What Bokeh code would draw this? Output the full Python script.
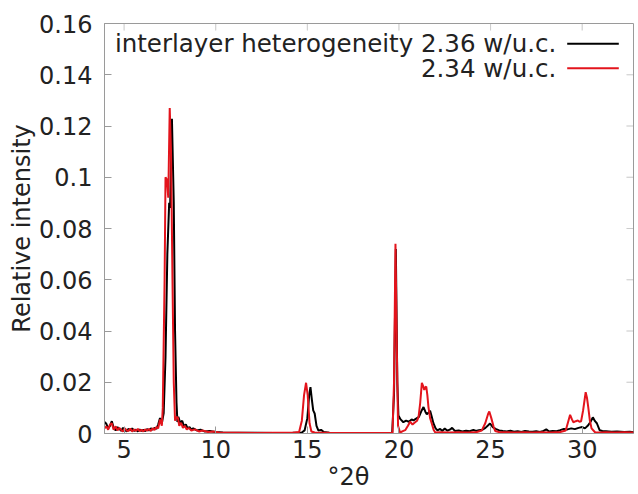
from bokeh.plotting import figure
from bokeh.models import FixedTicker, Range1d, Label, BoxAnnotation, Title
from bokeh.embed import file_html
from bokeh.resources import INLINE

# ---------------- data ----------------
x_black = [3.93, 4.03, 4.13, 4.23, 4.33, 4.43, 4.54, 4.64, 4.74, 4.84, 4.94, 5.04, 5.14, 5.24, 5.34,
           5.44, 5.55, 5.65, 5.75, 5.85, 5.95, 6.05, 6.15, 6.25, 6.35, 6.46, 6.56, 6.66, 6.76, 6.86,
           6.96, 7.06, 7.16, 7.26, 7.36, 7.46, 7.51, 7.61, 7.71, 7.78, 7.86, 7.91, 7.96, 8.07, 8.17,
           8.27, 8.37, 8.47, 8.57, 8.67, 8.77, 8.97, 9.17, 9.38, 9.68, 9.98, 10.39, 11.2, 12.2, 13.2,
           14.2, 14.7, 14.85, 15.0, 15.1, 15.17, 15.25, 15.32, 15.4, 15.5, 15.6, 15.75, 15.9, 16.2,
           17.2, 18.2, 19.2, 19.63, 19.73, 19.83, 19.91, 19.97, 20.09, 20.24, 20.39, 20.54, 20.69,
           20.79, 20.94, 21.09, 21.24, 21.34, 21.44, 21.52, 21.62, 21.70, 21.79, 21.88, 22.0, 22.1,
           22.25, 22.35, 22.5, 22.65, 22.8, 22.9, 23.05, 23.26, 23.46, 23.66, 23.86, 24.06, 24.21,
           24.36, 24.56, 24.72, 24.87, 24.97, 25.12, 25.27, 25.47, 25.67, 25.88, 26.08, 26.28, 26.48,
           26.68, 26.88, 27.09, 27.29, 27.49, 27.69, 27.89, 28.04, 28.19, 28.39, 28.6, 28.8, 29.0,
           29.2, 29.4, 29.6, 29.8, 30.0, 30.15, 30.3, 30.45, 30.58, 30.7, 30.8, 30.95, 31.1, 31.3,
           31.6, 31.9, 32.3, 32.6, 32.8]
y_black = [0.0045, 0.0038, 0.0020, 0.0030, 0.0048, 0.0022, 0.0012, 0.0025, 0.0018, 0.0010, 0.0022,
           0.0015, 0.0008, 0.0018, 0.0012, 0.0020, 0.0010, 0.0015, 0.0008, 0.0016, 0.0010, 0.0014,
           0.0009, 0.0017, 0.0012, 0.0020, 0.0015, 0.0022, 0.0018, 0.0035, 0.0060, 0.0040, 0.0080,
           0.0300, 0.0700, 0.0900, 0.0880, 0.1228, 0.0900, 0.0400, 0.0120, 0.0045, 0.0065, 0.0040,
           0.0050, 0.0028, 0.0035, 0.0020, 0.0025, 0.0015, 0.0020, 0.0012, 0.0015, 0.0008, 0.0010,
           0.0006, 0.0004, 0.0003, 0.0003, 0.0002, 0.0003, 0.0004, 0.0012, 0.0060, 0.0150, 0.0181,
           0.0130, 0.0090, 0.0078, 0.0030, 0.0012, 0.0014, 0.0006, 0.0003, 0.0002, 0.0002, 0.0002,
           0.0003, 0.0150, 0.0720, 0.0200, 0.0070, 0.0055, 0.0044, 0.0050, 0.0046, 0.0055, 0.0051,
           0.0058, 0.0065, 0.0090, 0.0103, 0.0085, 0.0075, 0.0082, 0.0089, 0.0065, 0.0040, 0.0020,
           0.0012, 0.0018, 0.0010, 0.0019, 0.0011, 0.0016, 0.0022, 0.0010, 0.0012, 0.0008, 0.0011,
           0.0009, 0.0014, 0.0010, 0.0013, 0.0015, 0.0022, 0.0032, 0.0039, 0.0025, 0.0018, 0.0012,
           0.0010, 0.0008, 0.0011, 0.0007, 0.0009, 0.0006, 0.0010, 0.0008, 0.0007, 0.0009, 0.0006,
           0.0010, 0.0016, 0.0008, 0.0010, 0.0009, 0.0013, 0.0018, 0.0016, 0.0020, 0.0017, 0.0022,
           0.0025, 0.0020, 0.0030, 0.0045, 0.0063, 0.0048, 0.0040, 0.0013, 0.0010, 0.0009, 0.0007,
           0.0008, 0.0006, 0.0007, 0.0005]

x_red = [3.93, 4.03, 4.13, 4.23, 4.33, 4.43, 4.54, 4.64, 4.74, 4.84, 4.94, 5.04, 5.14, 5.24, 5.34,
         5.44, 5.55, 5.65, 5.75, 5.85, 5.95, 6.05, 6.15, 6.25, 6.35, 6.46, 6.56, 6.66, 6.76, 6.86,
         6.96, 7.06, 7.11, 7.21, 7.26, 7.34, 7.41, 7.49, 7.56, 7.64, 7.71, 7.78, 7.86, 7.94, 8.01,
         8.11, 8.21, 8.31, 8.42, 8.52, 8.67, 8.87, 9.08, 9.28, 9.58, 9.88, 10.18, 11.2, 12.2, 13.2,
         14.2, 14.55, 14.7, 14.82, 14.93, 15.02, 15.12, 15.22, 15.4, 16.2, 17.2, 18.2, 19.2, 19.65,
         19.73, 19.81, 19.89, 19.95, 20.06, 20.24, 20.34, 20.49, 20.61, 20.74, 20.88, 20.99, 21.07,
         21.16, 21.25, 21.32, 21.38, 21.44, 21.49, 21.55, 21.61, 21.70, 21.79, 21.89, 21.98, 22.25,
         22.75, 23.25, 23.75, 24.25, 24.52, 24.71, 24.86, 24.93, 25.04, 25.17, 25.25, 25.45, 25.85,
         26.3, 26.8, 27.3, 27.8, 28.3, 28.8, 29.1, 29.25, 29.34, 29.44, 29.52, 29.65, 29.76, 29.85,
         29.94, 30.05, 30.19, 30.26, 30.33, 30.42, 30.51, 30.7, 31.0, 31.3, 31.8, 32.3, 32.8]
y_red = [0.0020, 0.0028, 0.0015, 0.0035, 0.0040, 0.0015, 0.0028, 0.0012, 0.0022, 0.0014, 0.0008,
         0.0020, 0.0012, 0.0010, 0.0019, 0.0008, 0.0016, 0.0010, 0.0018, 0.0009, 0.0015, 0.0008,
         0.0016, 0.0011, 0.0018, 0.0010, 0.0020, 0.0014, 0.0025, 0.0020, 0.0055, 0.0030, 0.0100,
         0.0600, 0.1000, 0.0990, 0.0920, 0.1270, 0.1100, 0.0600, 0.0200, 0.0050, 0.0065, 0.0060,
         0.0030, 0.0042, 0.0022, 0.0030, 0.0015, 0.0022, 0.0012, 0.0016, 0.0008, 0.0012, 0.0006,
         0.0008, 0.0004, 0.0003, 0.0002, 0.0003, 0.0003, 0.0006, 0.0050, 0.0150, 0.0198, 0.0150,
         0.0040, 0.0008, 0.0004, 0.0003, 0.0002, 0.0002, 0.0002, 0.0003, 0.0200, 0.0740, 0.0300,
         0.0030, 0.0004, 0.0010, 0.0013, 0.0030, 0.0046, 0.0035, 0.0044, 0.0050, 0.0065, 0.0120,
         0.0198, 0.0185, 0.0170, 0.0180, 0.0183, 0.0150, 0.0103, 0.0060, 0.0039, 0.0015, 0.0004,
         0.0005, 0.0004, 0.0005, 0.0004, 0.0006, 0.0012, 0.0040, 0.0075, 0.0086, 0.0060, 0.0025,
         0.0010, 0.0006, 0.0005, 0.0004, 0.0005, 0.0004, 0.0005, 0.0004, 0.0006, 0.0012, 0.0050,
         0.0073, 0.0055, 0.0044, 0.0048, 0.0051, 0.0046, 0.0048, 0.0090, 0.0161, 0.0140, 0.0103,
         0.0050, 0.0020, 0.0005, 0.0004, 0.0005, 0.0004, 0.0005, 0.0004]

series_labels = ["interlayer heterogeneity 2.36 w/u.c.", "2.34 w/u.c."]
x_ticks = [5, 10, 15, 20, 25, 30]
x_tick_labels = ["5", "10", "15", "20", "25", "30"]
y_ticks = [0, 0.02, 0.04, 0.06, 0.08, 0.1, 0.12, 0.14, 0.16]
y_tick_labels = ["0", "0.02", "0.04", "0.06", "0.08", "0.1", "0.12", "0.14", "0.16"]
x_label = "\u00b02\u03b8"
y_label = "Relative intensity"

# ---------------- styling ----------------
FONT = "DejaVu Sans"
TXT = "#222222"
GRAY = "#9a9a9a"
BLACK = "#000000"
RED = "#e3141c"
FW, FH, TICK = 529, 410, 7

p = figure(frame_width=FW, frame_height=FH,
           x_range=Range1d(3.93, 32.8), y_range=Range1d(0, 0.16),
           output_backend="svg", toolbar_location=None,
           min_border_left=104, min_border_right=5, min_border_top=23, min_border_bottom=60,
           background_fill_color="white", border_fill_color="white")
p.xgrid.visible = False
p.ygrid.visible = False
p.outline_line_color = GRAY
p.outline_line_width = 1

p.line(x_black, y_black, line_color=BLACK, line_width=2)
p.line(x_red, y_red, line_color=RED, line_width=2)

for ax, ticks, labels in ((p.xaxis[0], x_ticks, x_tick_labels), (p.yaxis[0], y_ticks, y_tick_labels)):
    ax.ticker = FixedTicker(ticks=ticks)
    ax.major_label_overrides = dict(zip(ticks, labels))
    ax.axis_line_color = GRAY
    ax.major_tick_line_color = GRAY
    ax.major_tick_in = TICK
    ax.major_tick_out = 0
    ax.minor_tick_line_color = None
    ax.major_label_text_font = FONT
    ax.major_label_text_font_size = "24px"
    ax.major_label_text_color = TXT
    ax.axis_label_text_font = FONT
    ax.axis_label_text_font_size = "24px"
    ax.axis_label_text_font_style = "normal"
    ax.axis_label_text_color = TXT

p.xaxis[0].major_label_standoff = 6
p.yaxis[0].major_label_standoff = 12
p.yaxis[0].axis_label = y_label
p.yaxis[0].axis_label_standoff = 0

# x-axis title, a little left of the frame centre as in the reference
p.add_layout(Title(text=x_label, align="left", offset=223, standoff=0,
                   text_font=FONT, text_font_size="24px", text_font_style="normal",
                   text_color=TXT), "below")

# mirrored inward ticks on the top and right frame edges
for t in x_ticks:
    p.add_layout(BoxAnnotation(left=t, right=t, top=FH, bottom=FH - TICK,
                               top_units="screen", bottom_units="screen",
                               fill_alpha=0, line_color=GRAY, line_width=1))
for t in y_ticks[1:-1]:
    p.add_layout(BoxAnnotation(bottom=t, top=t, left=FW - TICK, right=FW,
                               left_units="screen", right_units="screen",
                               fill_alpha=0, line_color=GRAY, line_width=1))

# ---------------- key (text right-aligned, sample line to the right) ----------------
key_rows = [(389.7, BLACK), (365.3, RED)]
for lab, (yy, col) in zip(series_labels, key_rows):
    p.add_layout(Label(x=451.7, y=yy, x_units="screen", y_units="screen", text=lab,
                       text_align="right", text_baseline="middle", text_font=FONT,
                       text_font_size="24.5px", text_color=TXT))
    p.add_layout(BoxAnnotation(left=462.7, right=514.3, bottom=yy - 1, top=yy + 1,
                               left_units="screen", right_units="screen",
                               bottom_units="screen", top_units="screen",
                               fill_color=col, fill_alpha=1.0, line_color=None))

open("out.html", "w").write(file_html(p, INLINE))
